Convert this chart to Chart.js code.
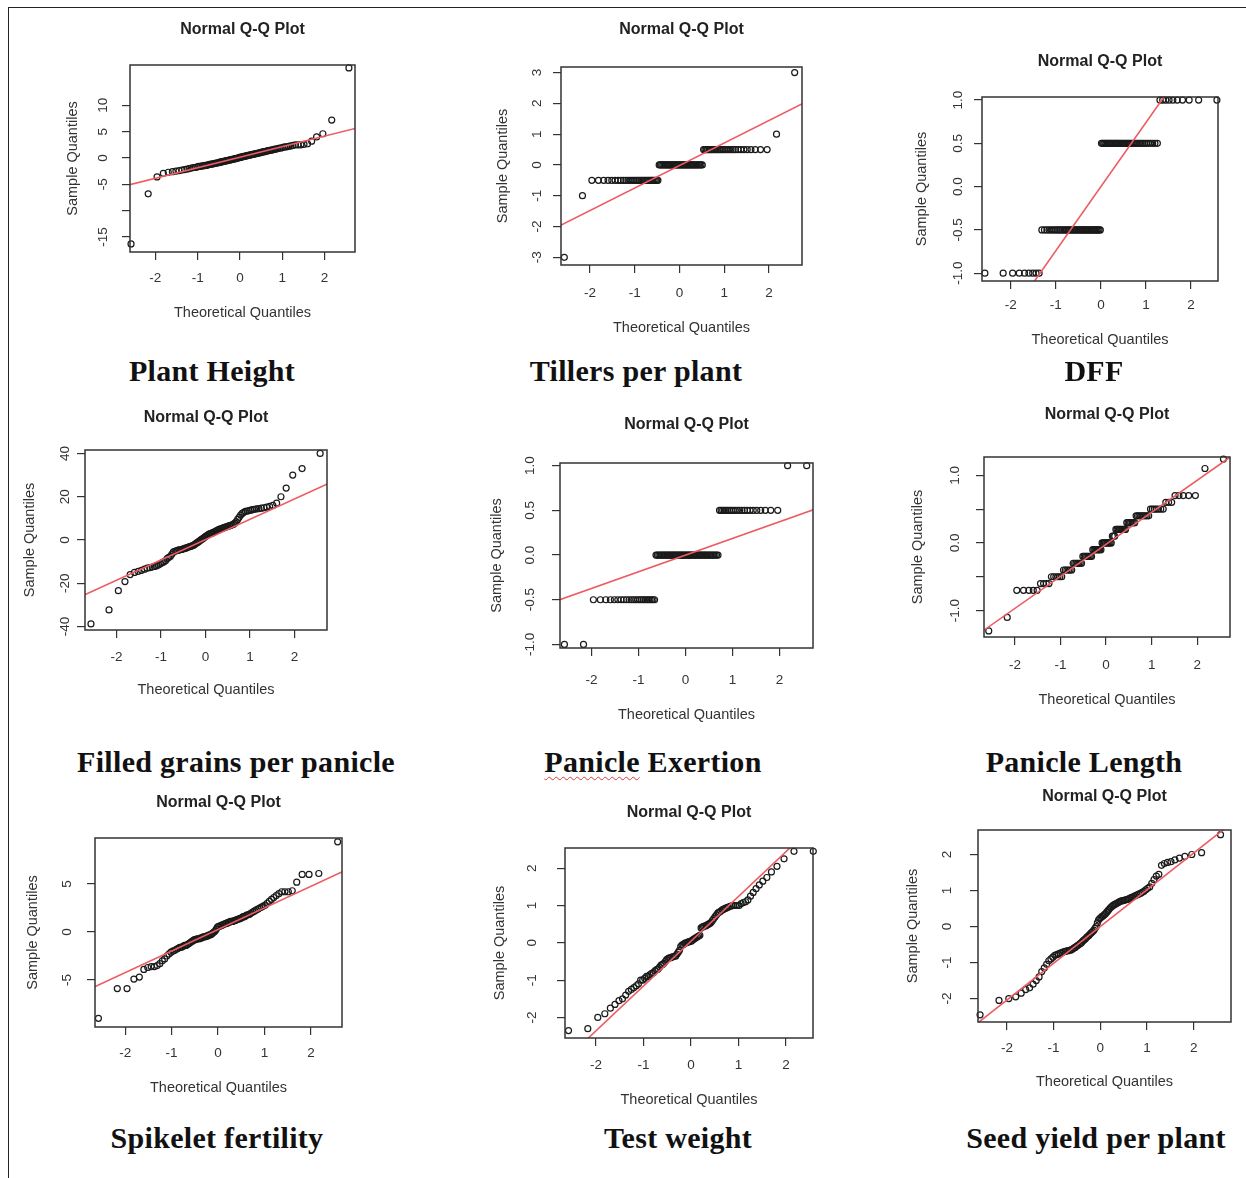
<!DOCTYPE html>
<html>
<head>
<meta charset="utf-8">
<title>Normal Q-Q plots</title>
<script src="https://cdn.jsdelivr.net/npm/chart.js@4.4.0/dist/chart.umd.min.js"></script>
<style>
  html, body { margin: 0; padding: 0; background: #fff; }
  body { width: 1246px; height: 1178px; position: relative; overflow: hidden; }
  #frame { position: absolute; left: 8px; top: 7px; width: 1400px; height: 1400px;
           border-left: 1.5px solid #222; border-top: 1.5px solid #222; }
  canvas { position: absolute; }
  .cap { position: absolute; transform: translateX(-50%); white-space: nowrap; letter-spacing: 0.3px;
         font: bold 30px "Liberation Serif", "DejaVu Serif", serif; color: #111; line-height: 34px; }
  .squiggle { text-decoration: underline wavy #d8393c; text-decoration-thickness: 1px; text-underline-offset: 4px; }
</style>
</head>
<body>
<div id="frame"></div>
<script>
// theoretical normal quantiles (n = 100) shared by every panel
const theoQ = [
  -2.576,-2.170,-1.960,-1.812,-1.695,-1.598,-1.514,-1.440,-1.372,-1.311,
  -1.254,-1.200,-1.150,-1.103,-1.058,-1.015,-0.974,-0.935,-0.896,-0.860,
  -0.824,-0.789,-0.755,-0.722,-0.690,-0.659,-0.628,-0.598,-0.568,-0.539,
  -0.510,-0.482,-0.454,-0.426,-0.399,-0.372,-0.345,-0.319,-0.292,-0.266,
  -0.240,-0.215,-0.189,-0.164,-0.138,-0.113,-0.088,-0.063,-0.038,-0.013,
  0.013,0.038,0.063,0.088,0.113,0.138,0.164,0.189,0.215,0.240,
  0.266,0.292,0.319,0.345,0.372,0.399,0.426,0.454,0.482,0.510,
  0.539,0.568,0.598,0.628,0.659,0.690,0.722,0.755,0.789,0.824,
  0.860,0.896,0.935,0.974,1.015,1.058,1.103,1.150,1.200,1.254,
  1.311,1.372,1.440,1.514,1.598,1.695,1.812,1.960,2.170,2.576
];

// sorted sample quantiles
const yPlant = [
  -16.3,-6.8,-3.6,-2.9,-2.7,-2.6,-2.5,-2.4,-2.3,-2.2,
  -2.1,-2.0,-1.9,-1.8,-1.8,-1.7,-1.6,-1.6,-1.5,-1.5,
  -1.4,-1.4,-1.3,-1.2,-1.2,-1.1,-1.1,-1.0,-1.0,-0.9,
  -0.9,-0.8,-0.8,-0.7,-0.7,-0.6,-0.6,-0.5,-0.5,-0.4,
  -0.4,-0.3,-0.3,-0.2,-0.2,-0.1,-0.1,0.0,0.0,0.1,
  0.1,0.2,0.2,0.3,0.3,0.4,0.4,0.5,0.5,0.6,
  0.6,0.7,0.7,0.8,0.8,0.9,0.9,1.0,1.0,1.1,
  1.1,1.2,1.2,1.3,1.4,1.4,1.5,1.5,1.6,1.7,
  1.7,1.8,1.9,1.9,2.0,2.1,2.1,2.2,2.3,2.4,
  2.5,2.5,2.5,2.6,2.7,3.2,4.0,4.6,7.2,17.1
];
const yTillers = [
  -3,-1,-0.5,-0.5,-0.5,-0.5,-0.5,-0.5,-0.5,-0.5,
  -0.5,-0.5,-0.5,-0.5,-0.5,-0.5,-0.5,-0.5,-0.5,-0.5,
  -0.5,-0.5,-0.5,-0.5,-0.5,-0.5,-0.5,-0.5,-0.5,-0.5,
  -0.5,-0.5,0,0,0,0,0,0,0,0,
  0,0,0,0,0,0,0,0,0,0,
  0,0,0,0,0,0,0,0,0,0,
  0,0,0,0,0,0,0,0,0,0,
  0.5,0.5,0.5,0.5,0.5,0.5,0.5,0.5,0.5,0.5,
  0.5,0.5,0.5,0.5,0.5,0.5,0.5,0.5,0.5,0.5,
  0.5,0.5,0.5,0.5,0.5,0.5,0.5,0.5,1,3
];
const yDff = [
  -1,-1,-1,-1,-1,-1,-1,-1,-1,-0.5,
  -0.5,-0.5,-0.5,-0.5,-0.5,-0.5,-0.5,-0.5,-0.5,-0.5,
  -0.5,-0.5,-0.5,-0.5,-0.5,-0.5,-0.5,-0.5,-0.5,-0.5,
  -0.5,-0.5,-0.5,-0.5,-0.5,-0.5,-0.5,-0.5,-0.5,-0.5,
  -0.5,-0.5,-0.5,-0.5,-0.5,-0.5,-0.5,-0.5,-0.5,-0.5,
  0.5,0.5,0.5,0.5,0.5,0.5,0.5,0.5,0.5,0.5,
  0.5,0.5,0.5,0.5,0.5,0.5,0.5,0.5,0.5,0.5,
  0.5,0.5,0.5,0.5,0.5,0.5,0.5,0.5,0.5,0.5,
  0.5,0.5,0.5,0.5,0.5,0.5,0.5,0.5,0.5,0.5,
  1,1,1,1,1,1,1,1,1,1
];
const yFilled = [
  -38.8,-32.3,-23.4,-19.2,-16,-15,-14.5,-14,-13.5,-13,
  -12.8,-12.5,-12.2,-12,-11.5,-11,-10.5,-10,-9.5,-8.5,
  -8,-7.5,-6.5,-5.5,-5.2,-5,-4.8,-4.6,-4.5,-4.4,
  -4.2,-4,-3.8,-3.6,-3.4,-3.2,-3,-2.8,-2.6,-2.3,
  -2,-1.6,-1.2,-0.9,-0.5,-0.1,0.3,0.6,1,1.4,
  1.8,2.2,2.5,2.8,3,3.2,3.4,3.6,3.9,4.2,
  4.5,4.8,5,5.2,5.4,5.6,5.8,6,6.2,6.4,
  6.6,6.8,7,7.3,7.8,8.5,9.5,10.5,11.5,12.3,
  12.8,13.2,13.4,13.6,13.8,14,14.2,14.4,14.5,14.7,
  14.9,15.2,15.5,16,17,20,24,30,33,40
];
const yExertion = [
  -1,-1,-0.5,-0.5,-0.5,-0.5,-0.5,-0.5,-0.5,-0.5,
  -0.5,-0.5,-0.5,-0.5,-0.5,-0.5,-0.5,-0.5,-0.5,-0.5,
  -0.5,-0.5,-0.5,-0.5,-0.5,-0.5,0,0,0,0,
  0,0,0,0,0,0,0,0,0,0,
  0,0,0,0,0,0,0,0,0,0,
  0,0,0,0,0,0,0,0,0,0,
  0,0,0,0,0,0,0,0,0,0,
  0,0,0,0,0,0,0.5,0.5,0.5,0.5,
  0.5,0.5,0.5,0.5,0.5,0.5,0.5,0.5,0.5,0.5,
  0.5,0.5,0.5,0.5,0.5,0.5,0.5,0.5,1,1
];
const yLength = [
  -1.3,-1.1,-0.7,-0.7,-0.7,-0.7,-0.7,-0.6,-0.6,-0.6,
  -0.6,-0.5,-0.5,-0.5,-0.5,-0.5,-0.5,-0.4,-0.4,-0.4,
  -0.4,-0.4,-0.4,-0.3,-0.3,-0.3,-0.3,-0.3,-0.3,-0.3,
  -0.2,-0.2,-0.2,-0.2,-0.2,-0.2,-0.2,-0.2,-0.1,-0.1,
  -0.1,-0.1,-0.1,-0.1,-0.1,-0.1,0,0,0,0,
  0,0,0,0,0,0.1,0.1,0.1,0.2,0.2,
  0.2,0.2,0.2,0.2,0.2,0.2,0.2,0.3,0.3,0.3,
  0.3,0.3,0.3,0.3,0.4,0.4,0.4,0.4,0.4,0.4,
  0.4,0.4,0.4,0.5,0.5,0.5,0.5,0.5,0.5,0.5,
  0.6,0.6,0.6,0.7,0.7,0.7,0.7,0.7,1.1,1.24
];
const yFertility = [
  -9.0,-5.9,-5.9,-4.9,-4.7,-3.9,-3.7,-3.6,-3.6,-3.5,
  -3.3,-3.0,-2.8,-2.5,-2.3,-2.1,-2.0,-1.9,-1.8,-1.7,
  -1.6,-1.6,-1.5,-1.4,-1.4,-1.3,-1.2,-1.1,-1.0,-0.9,
  -0.8,-0.8,-0.7,-0.7,-0.7,-0.6,-0.6,-0.5,-0.5,-0.5,
  -0.4,-0.4,-0.3,-0.3,-0.2,-0.1,0.0,0.1,0.3,0.5,
  0.6,0.6,0.7,0.7,0.8,0.8,0.9,0.9,1.0,1.0,
  1.1,1.1,1.1,1.2,1.2,1.3,1.3,1.4,1.4,1.5,
  1.6,1.6,1.7,1.8,1.8,1.9,2.0,2.1,2.2,2.3,
  2.4,2.5,2.6,2.7,2.8,3.0,3.2,3.4,3.6,3.8,
  4.0,4.2,4.2,4.2,4.3,5.2,6.0,6.0,6.1,9.4
];
const yTest = [
  -2.35,-2.3,-2.0,-1.9,-1.75,-1.65,-1.55,-1.5,-1.4,-1.3,
  -1.25,-1.2,-1.15,-1.1,-1.0,-1.0,-0.95,-0.9,-0.9,-0.85,
  -0.82,-0.8,-0.75,-0.72,-0.7,-0.65,-0.6,-0.58,-0.55,-0.5,
  -0.45,-0.42,-0.4,-0.4,-0.38,-0.37,-0.36,-0.35,-0.3,-0.25,
  -0.2,-0.1,-0.06,-0.05,-0.02,0.0,0.0,0.02,0.03,0.04,
  0.05,0.08,0.1,0.12,0.14,0.16,0.18,0.2,0.4,0.42,
  0.44,0.45,0.46,0.48,0.5,0.52,0.55,0.6,0.65,0.7,
  0.75,0.8,0.82,0.85,0.88,0.9,0.92,0.94,0.96,0.98,
  0.99,1.0,1.0,1.0,1.0,1.05,1.08,1.1,1.15,1.25,
  1.35,1.45,1.55,1.65,1.75,1.9,2.05,2.25,2.45,2.45
];
const yYield = [
  -2.45,-2.05,-2.0,-1.95,-1.85,-1.75,-1.7,-1.6,-1.5,-1.4,
  -1.25,-1.15,-1.05,-0.95,-0.9,-0.85,-0.8,-0.78,-0.76,-0.74,
  -0.72,-0.7,-0.69,-0.68,-0.67,-0.66,-0.65,-0.63,-0.6,-0.58,
  -0.55,-0.52,-0.5,-0.47,-0.44,-0.4,-0.37,-0.34,-0.3,-0.27,
  -0.24,-0.2,-0.17,-0.14,-0.1,-0.05,0.0,0.1,0.18,0.22,
  0.25,0.28,0.3,0.33,0.36,0.4,0.44,0.48,0.52,0.55,
  0.58,0.6,0.62,0.64,0.66,0.68,0.7,0.71,0.72,0.73,
  0.74,0.75,0.76,0.78,0.8,0.82,0.84,0.86,0.88,0.9,
  0.92,0.95,0.98,1.02,1.06,1.1,1.2,1.3,1.4,1.45,
  1.7,1.75,1.78,1.8,1.85,1.9,1.95,2.0,2.05,2.55
];

// qqline end points at x = -3 and x = 3
const lineX = [-3, 3];
const linePlant = [-5.85, 6.15];
const lineTillers = [-2.21, 2.17];
const lineDff = [-2.22, 2.22];
const lineFilled = [-28.0, 28.4];
const lineExertion = [-0.56, 0.56];
const lineLength = [-1.44, 1.40];
const lineFertility = [-6.48, 7.02];
const lineTest = [-3.56, 3.64];
const lineYield = [-3.06, 3.06];

// tick values and labels
const xTicks = [-2, -1, 0, 1, 2];
const ticksPlant = [-15, -10, -5, 0, 5, 10];
const labelsPlant = ['-15', '', '-5', '0', '5', '10'];
const ticksTillers = [-3, -2, -1, 0, 1, 2, 3];
const labelsTillers = ['-3', '-2', '-1', '0', '1', '2', '3'];
const ticksHalf = [-1, -0.5, 0, 0.5, 1];
const labelsHalf = ['-1.0', '-0.5', '0.0', '0.5', '1.0'];
const labelsLength = ['-1.0', '', '0.0', '', '1.0'];
const ticksFilled = [-40, -20, 0, 20, 40];
const labelsFilled = ['-40', '-20', '0', '20', '40'];
const ticksFertility = [-5, 0, 5];
const labelsFertility = ['-5', '0', '5'];
const ticksTwo = [-2, -1, 0, 1, 2];
const labelsTwo = ['-2', '-1', '0', '1', '2'];

const captions = ['Plant Height', 'Tillers per plant', 'DFF',
  'Filled grains per panicle', 'Panicle Exertion', 'Panicle Length',
  'Spikelet fertility', 'Test weight', 'Seed yield per plant'];

// layout: plot box [left, top, right, bottom] and text offsets, in page pixels
const panels = [
  { y: yPlant, line: linePlant, yt: ticksPlant, yl: labelsPlant, box: [130, 65, 355, 252], titleY: 30, xr: [-2.60, 2.72], yr: [-17.84, 17.65], xLab: 26, xTit: 61, yLab: 27, yTit: 57, cap: [212, 371] },
  { y: yTillers, line: lineTillers, yt: ticksTillers, yl: labelsTillers, box: [561, 67, 802, 265], titleY: 30, xr: [-2.65, 2.74], yr: [-3.25, 3.18], xLab: 28, xTit: 63, yLab: 24, yTit: 58, cap: [636, 371] },
  { y: yDff, line: lineDff, yt: ticksHalf, yl: labelsHalf, box: [982, 97, 1218, 281], titleY: 62, xr: [-2.64, 2.60], yr: [-1.09, 1.035], xLab: 24, xTit: 59, yLab: 24, yTit: 60, cap: [1094, 371] },
  { y: yFilled, line: lineFilled, yt: ticksFilled, yl: labelsFilled, box: [85, 450, 327, 630], titleY: 418, xr: [-2.71, 2.73], yr: [-41.6, 41.6], xLab: 27, xTit: 60, yLab: 20, yTit: 55, cap: [236, 762] },
  { y: yExertion, line: lineExertion, yt: ticksHalf, yl: labelsHalf, box: [560, 463, 813, 648], titleY: 425, xr: [-2.67, 2.71], yr: [-1.04, 1.03], xLab: 32, xTit: 67, yLab: 30, yTit: 63, cap: [653, 762], squiggle: 'Panicle' },
  { y: yLength, line: lineLength, yt: ticksHalf, yl: labelsLength, box: [984, 457, 1230, 637], titleY: 415, xr: [-2.68, 2.72], yr: [-1.39, 1.27], xLab: 28, xTit: 63, yLab: 29, yTit: 66, cap: [1084, 762] },
  { y: yFertility, line: lineFertility, yt: ticksFertility, yl: labelsFertility, box: [95, 838, 342, 1027], titleY: 803, xr: [-2.65, 2.67], yr: [-9.9, 9.8], xLab: 26, xTit: 61, yLab: 28, yTit: 62, cap: [217, 1138] },
  { y: yTest, line: lineTest, yt: ticksTwo, yl: labelsTwo, box: [565, 848, 813, 1038], titleY: 813, xr: [-2.65, 2.57], yr: [-2.55, 2.54], xLab: 27, xTit: 62, yLab: 33, yTit: 65, cap: [678, 1138] },
  { y: yYield, line: lineYield, yt: ticksTwo, yl: labelsTwo, box: [978, 830, 1231, 1022], titleY: 797, xr: [-2.62, 2.80], yr: [-2.65, 2.68], xLab: 26, xTit: 60, yLab: 31, yTit: 65, cap: [1096, 1138] }
];

const FONT = '"Liberation Sans", Arial, sans-serif';
Chart.defaults.font.family = FONT;
Chart.defaults.color = '#333';

const YW = 80, XH = 75, PR = 15;

// plot title, box around the plot region and rotated y tick labels, as R draws them
function rAxes(p, top) {
  return {
    id: 'rAxes',
    afterDraw(chart) {
      const { ctx, chartArea: a } = chart;
      const ys = chart.scales.y;
      ctx.save();
      ctx.strokeStyle = '#333';
      ctx.lineWidth = 1.5;
      ctx.strokeRect(a.left, a.top, a.right - a.left, a.bottom - a.top);
      ctx.textAlign = 'center';
      ctx.textBaseline = 'middle';
      ctx.fillStyle = '#222';
      ctx.font = 'bold 16px ' + FONT;
      ctx.fillText('Normal Q-Q Plot', (a.left + a.right) / 2, p.titleY - top);
      ctx.fillStyle = '#333';
      ctx.font = '13.5px ' + FONT;
      p.yt.forEach((v, i) => {
        if (!p.yl[i]) return;
        ctx.save();
        ctx.translate(a.left - p.yLab, ys.getPixelForValue(v));
        ctx.rotate(-Math.PI / 2);
        ctx.fillText(p.yl[i], 0, 0);
        ctx.restore();
      });
      ctx.restore();
    }
  };
}

panels.forEach((p, k) => {
  const [L, T, R, B] = p.box;
  const top = p.titleY - 15;
  const cv = document.createElement('canvas');
  cv.width = R - L + YW + PR;
  cv.height = B - top + XH;
  cv.style.left = (L - YW) + 'px';
  cv.style.top = top + 'px';
  document.body.appendChild(cv);

  const pts = theoQ.map((x, i) => ({ x: x, y: p.y[i] }));
  const qq = lineX.map((x, i) => ({ x: x, y: p.line[i] }));

  new Chart(cv, {
    type: 'scatter',
    data: {
      datasets: [
        { data: pts, pointStyle: 'circle', pointRadius: 3, pointBorderWidth: 1.2,
          borderColor: '#1a1a1a', backgroundColor: 'rgba(0,0,0,0)', order: 1, clip: 4 },
        { data: qq, showLine: true, pointRadius: 0, borderColor: 'rgb(236,92,98)',
          borderWidth: 1.6, order: 0, clip: 0 }
      ]
    },
    options: {
      responsive: false,
      animation: false,
      layout: { padding: { left: 0, right: PR, top: T - top, bottom: 0 } },
      plugins: {
        legend: { display: false },
        tooltip: { enabled: false },
        title: { display: false }
      },
      scales: {
        x: {
          type: 'linear', min: p.xr[0], max: p.xr[1],
          afterBuildTicks: s => { s.ticks = xTicks.map(v => ({ value: v })); },
          afterFit: s => { s.height = XH; },
          ticks: { autoSkip: false, maxRotation: 0, font: { size: 13.5 }, color: '#333',
                   padding: p.xLab - 8 - 7.5, callback: v => String(v) },
          grid: { drawOnChartArea: false, drawTicks: true, tickLength: 8, color: '#333', lineWidth: 1.2 },
          border: { display: false },
          title: { display: true, text: 'Theoretical Quantiles', font: { size: 14.5 }, color: '#333',
                   padding: { top: 0, bottom: XH - 8.7 - p.xTit } }
        },
        y: {
          type: 'linear', min: p.yr[0], max: p.yr[1],
          afterBuildTicks: s => { s.ticks = p.yt.map(v => ({ value: v })); },
          afterFit: s => { s.width = YW; },
          ticks: { display: false },
          grid: { drawOnChartArea: false, drawTicks: true, tickLength: 8, color: '#333', lineWidth: 1.2 },
          border: { display: false },
          title: { display: true, text: 'Sample Quantiles', font: { size: 14.5 }, color: '#333',
                   padding: { top: YW - p.yTit - 8.7, bottom: 0 } }
        }
      }
    },
    plugins: [rAxes(p, top)]
  });

  const cap = document.createElement('div');
  cap.className = 'cap';
  cap.style.left = p.cap[0] + 'px';
  cap.style.top = (p.cap[1] - 17) + 'px';
  const txt = captions[k];
  if (p.squiggle && txt.startsWith(p.squiggle)) {
    const s = document.createElement('span');
    s.className = 'squiggle';
    s.textContent = p.squiggle;
    cap.appendChild(s);
    cap.appendChild(document.createTextNode(txt.slice(p.squiggle.length)));
  } else {
    cap.textContent = txt;
  }
  document.body.appendChild(cap);
});
</script>
</body>
</html>
